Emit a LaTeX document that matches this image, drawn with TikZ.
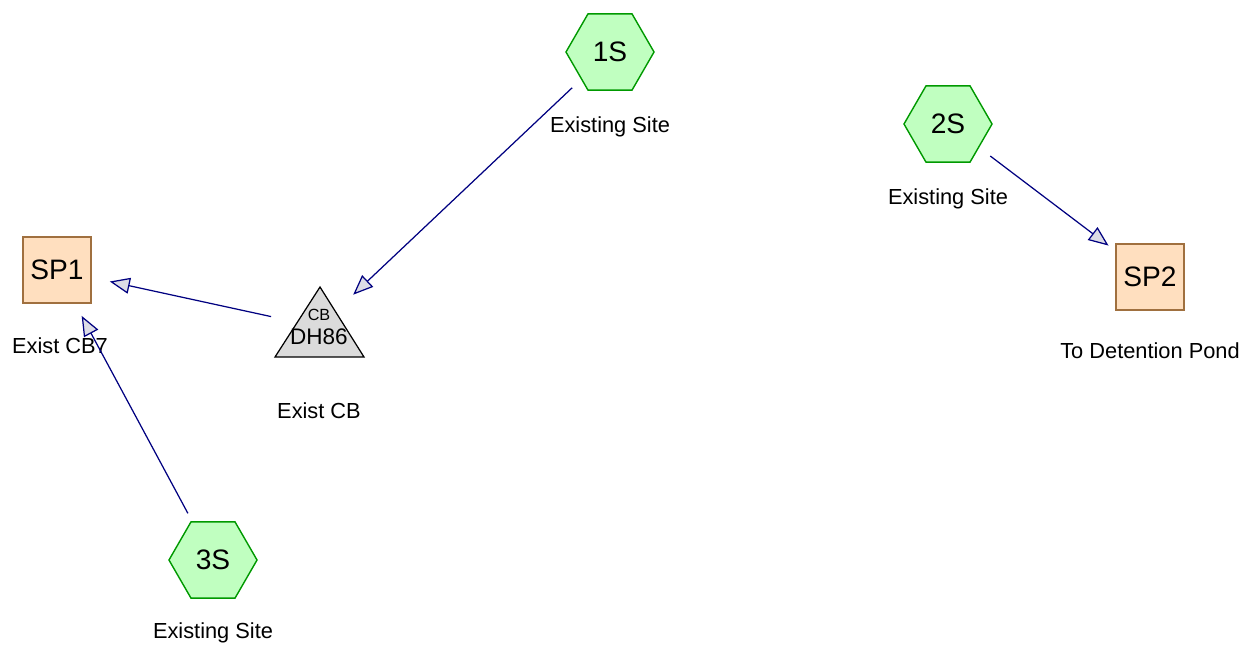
\documentclass[tikz,border=0pt]{standalone}
\usepackage{fontspec}
\setmainfont{Liberation Sans}
\usetikzlibrary{shapes.geometric,arrows.meta}

\definecolor{subfill}{RGB}{192,255,192}
\definecolor{subline}{RGB}{0,153,0}
\definecolor{pondfill}{RGB}{255,223,191}
\definecolor{pondline}{RGB}{160,112,63}
\definecolor{linkline}{RGB}{0,0,128}
\definecolor{tipfill}{RGB}{220,220,230}

\begin{document}
\begin{tikzpicture}[x=0.01cm,y=-0.01cm,
    subcat/.style={regular polygon,regular polygon sides=6,draw=subline,fill=subfill,
      minimum size=0.88cm,inner sep=0pt,font=\fontsize{8}{9}\selectfont},
    pond/.style={rectangle,draw=pondline,fill=pondfill,minimum width=0.68cm,
      minimum height=0.66cm,inner sep=0pt,font=\fontsize{8}{9}\selectfont},
    caption/.style={font=\fontsize{6.2}{7}\selectfont,inner sep=0pt},
    link/.style={draw=linkline,line width=0.35pt,
      -{Triangle[length=0.2cm,width=0.16cm,fill=tipfill]}}]
\useasboundingbox (0,0) rectangle (1249,645);
% subcatchments
\node[subcat] (1S) at (610,52) {1S};
\node[subcat] (2S) at (948,124) {2S};
\node[subcat] (3S) at (213,560) {3S};
\node[caption] (c1S) at (610,127) {Existing Site};
\node[caption] (c2S) at (948,199) {Existing Site};
\node[caption] (c3S) at (213,633) {Existing Site};
% ponds
\node[pond] (SP1) at (57,270) {SP1};
\node[pond] (SP2) at (1150,277) {SP2};
\node[caption] (cSP1) at (60,346) {Exist CB7};
\node[caption] (cSP2) at (1150,351) {To Detention Pond};
% catch basin
\filldraw[draw=black,fill=black!14,line width=0.35pt] (275,357) -- (320,287) -- (364,357) -- cycle;
\node[align=center,inner sep=0pt,font=\fontsize{6.4}{6.8}\selectfont] (DH86) at (319,327)
  {{\fontsize{4.6}{6.8}\selectfont CB}\\DH86};
\node[caption] (cDH86) at (319,411) {Exist CB};
% links
\draw[link,shorten <=0.52cm,shorten >=0.47cm] (1S.center) -- (DH86.center);
\draw[link,shorten <=0.49cm,shorten >=0.54cm] (DH86.center) -- (SP1.center);
\draw[link,shorten <=0.53cm,shorten >=0.52cm] (3S.center) -- (SP1.center);
\draw[link,shorten <=0.53cm,shorten >=0.52cm] (2S.center) -- (SP2.center);
\end{tikzpicture}
\end{document}
